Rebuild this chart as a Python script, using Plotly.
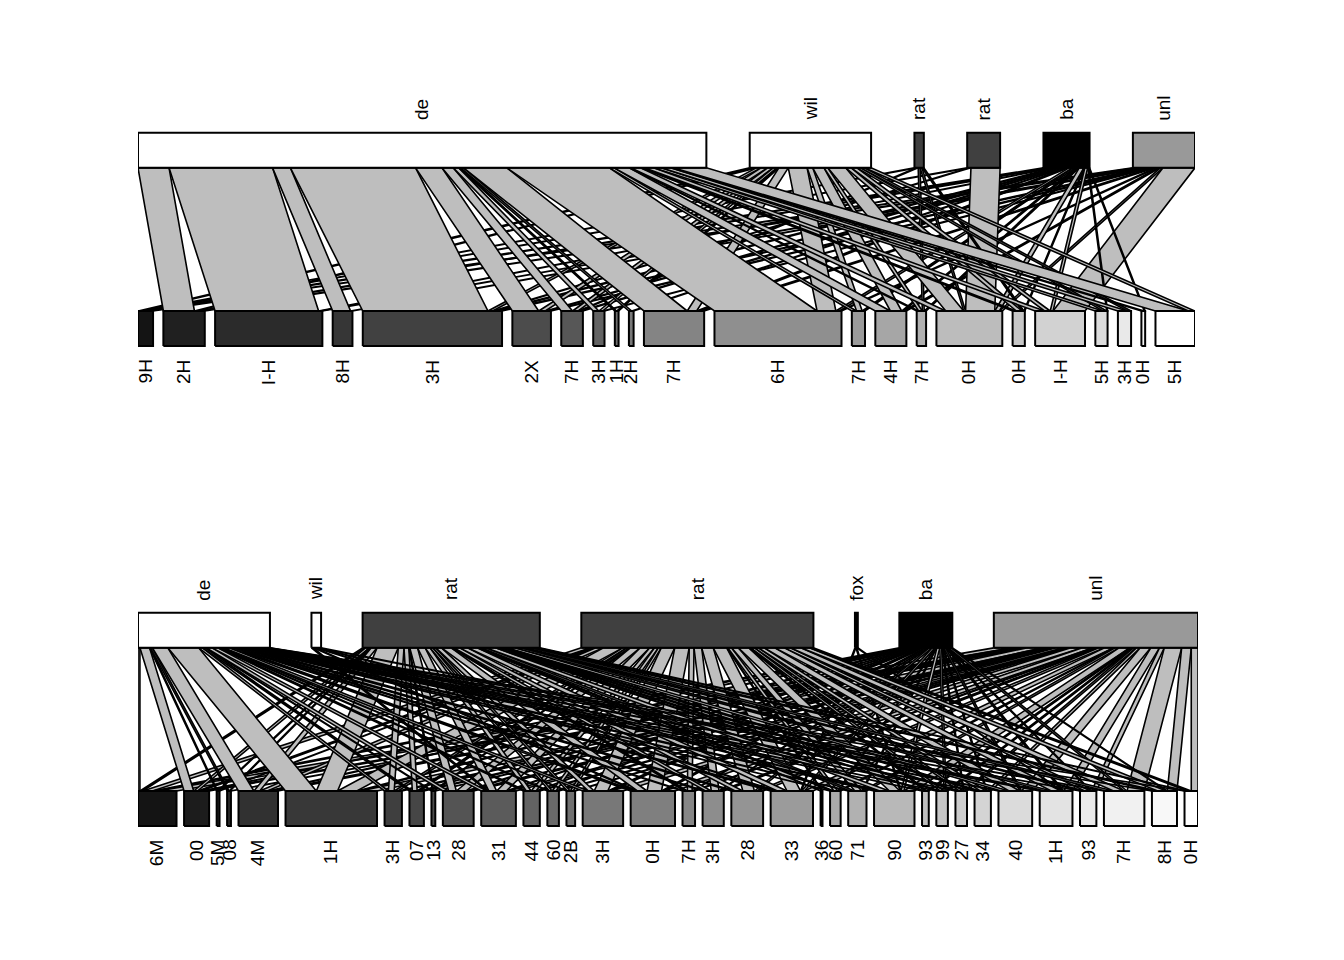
import plotly.graph_objects as go

# ---------------- DATA ----------------
top_high = ["de", "wil", "rat", "rat", "ba", "unl"]
top_low = ["9H", "2H", "I-H", "8H", "3H", "2X", "7H", "3H", "1H", "2H", "7H",
           "6H", "7H", "4H", "7H", "0H", "0H", "I-H", "5H", "3H", "0H", "5H"]
# rows = lower level, columns = higher level (de, wil, rat, rat, bad, unl)
top_web = [
    [0, 4, 2, 2, 5, 3],
    [33, 3, 0, 0, 4, 4],
    [110, 0, 0, 0, 2, 2],
    [19, 0, 0, 0, 0, 2],
    [133, 5, 0, 2, 4, 4],
    [28, 7, 0, 0, 3, 3],
    [12, 6, 2, 0, 3, 0],
    [6, 4, 0, 0, 0, 2],
    [2, 2, 0, 0, 0, 0],
    [3, 0, 0, 0, 2, 0],
    [46, 10, 0, 0, 4, 4],
    [109, 20, 0, 0, 4, 2],
    [5, 6, 0, 0, 3, 0],
    [16, 12, 0, 0, 2, 3],
    [2, 4, 2, 0, 2, 0],
    [10, 19, 2, 31, 5, 3],
    [4, 6, 2, 0, 1, 0],
    [10, 6, 0, 0, 3, 34],
    [8, 4, 0, 0, 1, 0],
    [10, 4, 0, 0, 0, 0],
    [3, 0, 0, 0, 1, 0],
    [35, 7, 0, 0, 0, 0],
]

bot_high = ["de", "wil", "rat", "rat", "fox", "ba", "unl"]
bot_low = ["6M", "00", "5M", "08", "4M", "1H", "3H", "07", "13", "28", "31", "44",
           "60", "2B", "3H", "0H", "7H", "3H", "28", "33", "36", "60", "71", "90",
           "93", "99", "27", "34", "40", "1H", "93", "7H", "8H", "0H"]
# rows = lower level, columns = higher level (de, wil, rat, rat, fox, bad, unl)
bot_web = [
    [2, 0, 3, 10, 0, 6, 19],
    [10, 0, 4, 4, 0, 2, 6],
    [1, 0, 1, 1, 0, 0, 0],
    [2, 0, 1, 0, 0, 0, 1],
    [16, 0, 6, 8, 0, 3, 8],
    [32, 0, 22, 20, 0, 4, 17],
    [4, 0, 6, 4, 0, 0, 4],
    [3, 0, 5, 3, 0, 1, 3],
    [1, 0, 1, 1, 0, 0, 1],
    [6, 0, 8, 10, 0, 2, 6],
    [6, 2, 8, 10, 0, 2, 8],
    [3, 0, 5, 5, 0, 1, 3],
    [2, 0, 3, 4, 0, 1, 2],
    [1, 0, 3, 3, 0, 0, 2],
    [6, 0, 6, 14, 0, 4, 12],
    [5, 2, 10, 15, 0, 3, 11],
    [2, 0, 3, 5, 0, 1, 2],
    [3, 0, 6, 8, 0, 1, 4],
    [4, 0, 8, 12, 0, 3, 6],
    [5, 2, 10, 14, 1, 3, 9],
    [0, 0, 1, 1, 0, 0, 0],
    [1, 0, 3, 4, 0, 1, 2],
    [2, 0, 5, 7, 0, 1, 4],
    [4, 2, 10, 11, 1, 3, 11],
    [1, 0, 2, 2, 0, 0, 2],
    [1, 0, 3, 4, 0, 2, 2],
    [1, 0, 3, 4, 0, 1, 3],
    [2, 0, 4, 6, 0, 1, 4],
    [3, 0, 8, 11, 0, 2, 11],
    [3, 2, 7, 10, 1, 2, 9],
    [1, 0, 4, 6, 0, 1, 5],
    [2, 0, 8, 11, 0, 3, 18],
    [1, 0, 5, 9, 0, 1, 10],
    [1, 0, 2, 4, 0, 0, 7],
]

# ---------------- STYLE ----------------
top_high_colors = ["#FFFFFF", "#FFFFFF", "#404040", "#404040", "#000000", "#999999"]
bot_high_colors = ["#FFFFFF", "#FFFFFF", "#404040", "#404040", "#000000", "#000000", "#999999"]
LINK_FILL = "#BEBEBE"
LOW_Y0, LOW_Y1 = 0.0, 1.0
HIGH_Y0, HIGH_Y1 = 5.09, 6.09
FONT = dict(family="Liberation Sans, Arial, sans-serif", size=19, color="black")
OFF = 8  # page offset of the plot div (body margin)


def gray_ramp(n, start=0.08, end=1.0):
    cols = []
    for k in range(n):
        v = start + (end - start) * k / (n - 1)
        c = int(round(v * 255))
        cols.append(f"rgb({c},{c},{c})")
    return cols


fig = go.Figure()
annotations = []


def build(web, low_labels, high_labels, high_colors, gapfrac, xa, ya):
    n_low = len(web)
    n_high = len(web[0])
    low_tot = [sum(r) for r in web]
    high_tot = [sum(web[i][j] for i in range(n_low)) for j in range(n_high)]
    W = sum(low_tot)
    S = W / (1 - gapfrac)
    gh = gapfrac * S / (n_high - 1)
    gl = gapfrac * S / (n_low - 1)
    hx, x = [], 0.0
    for t in high_tot:
        hx.append(x)
        x += t + gh
    lx, x = [], 0.0
    for t in low_tot:
        lx.append(x)
        x += t + gl
    hoff = [0.0] * n_high
    loff = [0.0] * n_low
    link_geo = {}
    for j in range(n_high):
        for i in range(n_low):
            v = web[i][j]
            if v > 0:
                link_geo.setdefault((i, j), {})["top"] = (hx[j] + hoff[j], hx[j] + hoff[j] + v)
                hoff[j] += v
    for i in range(n_low):
        for j in range(n_high):
            v = web[i][j]
            if v > 0:
                link_geo[(i, j)]["bot"] = (lx[i] + loff[i], lx[i] + loff[i] + v)
                loff[i] += v
    for i in range(n_low):
        for j in range(n_high):
            if web[i][j] > 0:
                t0, t1 = link_geo[(i, j)]["top"]
                b0, b1 = link_geo[(i, j)]["bot"]
                fig.add_trace(go.Scatter(
                    x=[t0, t1, b1, b0, t0], y=[HIGH_Y0, HIGH_Y0, LOW_Y1, LOW_Y1, HIGH_Y0],
                    mode="lines", fill="toself", fillcolor=LINK_FILL,
                    line=dict(color="black", width=1.6), hoverinfo="skip",
                    showlegend=False, xaxis=xa, yaxis=ya))
    low_cols = gray_ramp(n_low)
    for i in range(n_low):
        x0, x1 = lx[i], lx[i] + low_tot[i]
        fig.add_trace(go.Scatter(
            x=[x0, x1, x1, x0, x0], y=[LOW_Y0, LOW_Y0, LOW_Y1, LOW_Y1, LOW_Y0],
            mode="lines", fill="toself", fillcolor=low_cols[i],
            line=dict(color="black", width=2), hoverinfo="skip",
            showlegend=False, xaxis=xa, yaxis=ya))
        annotations.append(dict(
            x=(x0 + x1) / 2, y=LOW_Y0 - 0.34, xref=xa, yref=ya, text=low_labels[i],
            showarrow=False, textangle=-90, xanchor="center", yanchor="top", font=FONT))
    for j in range(n_high):
        x0, x1 = hx[j], hx[j] + high_tot[j]
        fig.add_trace(go.Scatter(
            x=[x0, x1, x1, x0, x0], y=[HIGH_Y0, HIGH_Y0, HIGH_Y1, HIGH_Y1, HIGH_Y0],
            mode="lines", fill="toself", fillcolor=high_colors[j],
            line=dict(color="black", width=2), hoverinfo="skip",
            showlegend=False, xaxis=xa, yaxis=ya))
        annotations.append(dict(
            x=(x0 + x1) / 2, y=HIGH_Y1 + 0.3, xref=xa, yref=ya, text=high_labels[j],
            showarrow=False, textangle=-90, xanchor="center", yanchor="bottom", font=FONT))
    return S


S_top = build(top_web, top_low, top_high, top_high_colors, 0.205, "x", "y")
S_bot = build(bot_web, bot_low, bot_high, bot_high_colors, 0.235, "x2", "y2")


def px_x(a, b):
    return [(a - OFF) / 1344, (b - OFF) / 1344]


def px_y(bottom_px, top_px):
    return [1 - (bottom_px - OFF) / 960, 1 - (top_px - OFF) / 960]


ax = dict(visible=False, showgrid=False, zeroline=False, fixedrange=True)
fig.update_layout(
    width=1344, height=960,
    margin=dict(l=0, r=0, t=0, b=0),
    paper_bgcolor="white", plot_bgcolor="white",
    xaxis=dict(ax, domain=px_x(138, 1195), range=[0, S_top]),
    yaxis=dict(ax, domain=px_y(398.5, 83.5), range=[-1.5, 7.5]),
    xaxis2=dict(ax, domain=px_x(138, 1198), range=[0, S_bot], anchor="y2"),
    yaxis2=dict(ax, domain=px_y(878.5, 563.5), range=[-1.5, 7.5], anchor="x2"),
    annotations=annotations,
)

fig.write_html("out.html")
